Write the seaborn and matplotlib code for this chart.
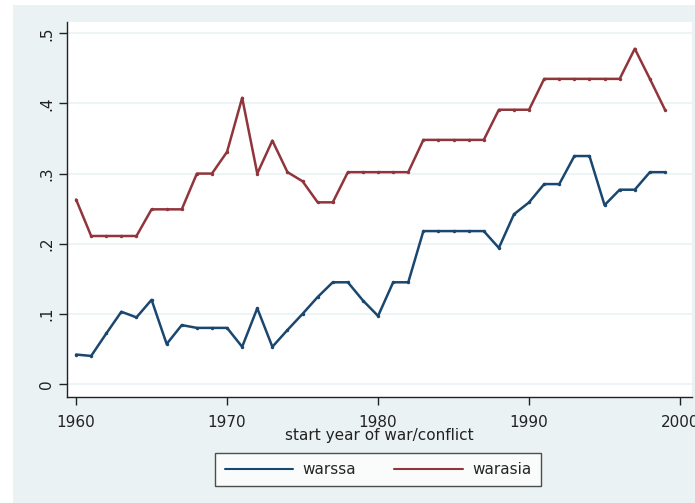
import numpy as np
import pandas as pd
import seaborn as sns
import matplotlib.pyplot as plt
from matplotlib.patches import Rectangle

years = list(range(1960, 2000))
warssa = [0.042, 0.040, 0.072, 0.103, 0.095, 0.120, 0.057, 0.084, 0.080, 0.080,
          0.080, 0.053, 0.108, 0.053, 0.077, 0.100, 0.124, 0.145, 0.145, 0.119,
          0.097, 0.145, 0.145, 0.218, 0.218, 0.218, 0.218, 0.218, 0.194, 0.242,
          0.259, 0.285, 0.285, 0.325, 0.325, 0.255, 0.277, 0.277, 0.302, 0.302]
warasia = [0.263, 0.211, 0.211, 0.211, 0.211, 0.249, 0.249, 0.249, 0.300, 0.300,
           0.331, 0.408, 0.300, 0.347, 0.302, 0.289, 0.259, 0.259, 0.302, 0.302,
           0.302, 0.302, 0.302, 0.348, 0.348, 0.348, 0.348, 0.348, 0.391, 0.391,
           0.391, 0.435, 0.435, 0.435, 0.435, 0.435, 0.435, 0.478, 0.435, 0.391]
ytick_vals = [0, 0.1, 0.2, 0.3, 0.4, 0.5]
ytick_labels = ['0', '.1', '.2', '.3', '.4', '.5']
xtick_vals = [1960, 1970, 1980, 1990, 2000]

df = pd.DataFrame({'year': years * 2,
                   'value': warssa + warasia,
                   'series': ['warssa'] * len(years) + ['warasia'] * len(years)})

sns.set_style('white')
plt.rcParams['font.family'] = ['DejaVu Sans']

bg = '#EAF2F3'
fig = plt.figure(figsize=(6.95, 5.03), dpi=100, facecolor='white')
fig.patches.append(Rectangle((13 / 695, 0), 1, 1 - 5 / 503, transform=fig.transFigure,
                             facecolor=bg, edgecolor='none', zorder=-1))
ax = fig.add_axes([66.7 / 695, 1 - 396.7 / 503, 625 / 695, 375 / 503])
ax.set_facecolor('white')

sns.lineplot(data=df, x='year', y='value', hue='series',
             palette={'warssa': '#1A476F', 'warasia': '#90353B'},
             marker='o', markersize=2.5, markeredgewidth=0, linewidth=1.8, ax=ax)

ax.set_xlim(1959.38, 2000.77)
ax.set_ylim(-0.0181, 0.5165)
ax.set_yticks(ytick_vals)
ax.set_yticklabels(ytick_labels, rotation=90, va='center', fontsize=11)
ax.set_xticks(xtick_vals)
ax.set_xticklabels([str(v) for v in xtick_vals], fontsize=11)
for y in ytick_vals:
    ax.axhline(y, color=bg, linewidth=1.2, zorder=0)

for side in ['top', 'right']:
    ax.spines[side].set_visible(False)
for side in ['left', 'bottom']:
    ax.spines[side].set_color('#222222')
    ax.spines[side].set_linewidth(1.0)
ax.tick_params(axis='both', which='major', direction='out', length=6, width=1,
               color='#222222', labelcolor='#222222', left=True, bottom=True)
ax.tick_params(axis='y', pad=3)
ax.tick_params(axis='x', pad=7)

ax.set_xlabel('start year of war/conflict', fontsize=11, labelpad=-1, color='#222222')
ax.set_ylabel('')

handles, labels = ax.get_legend_handles_labels()
for h in handles:
    h.set_marker('')
    h.set_linewidth(1.5)
ax.legend(handles, labels, loc='center', bbox_to_anchor=(378 / 695, 1 - 469.5 / 503),
          bbox_transform=fig.transFigure, ncol=2, frameon=True, fancybox=False,
          edgecolor='#222222', fontsize=11, handlelength=4.5, columnspacing=2.5,
          borderpad=0.6, handletextpad=0.6)
ax.get_legend().get_frame().set_linewidth(1.0)

fig.savefig('out.png', dpi=100, facecolor='white')
